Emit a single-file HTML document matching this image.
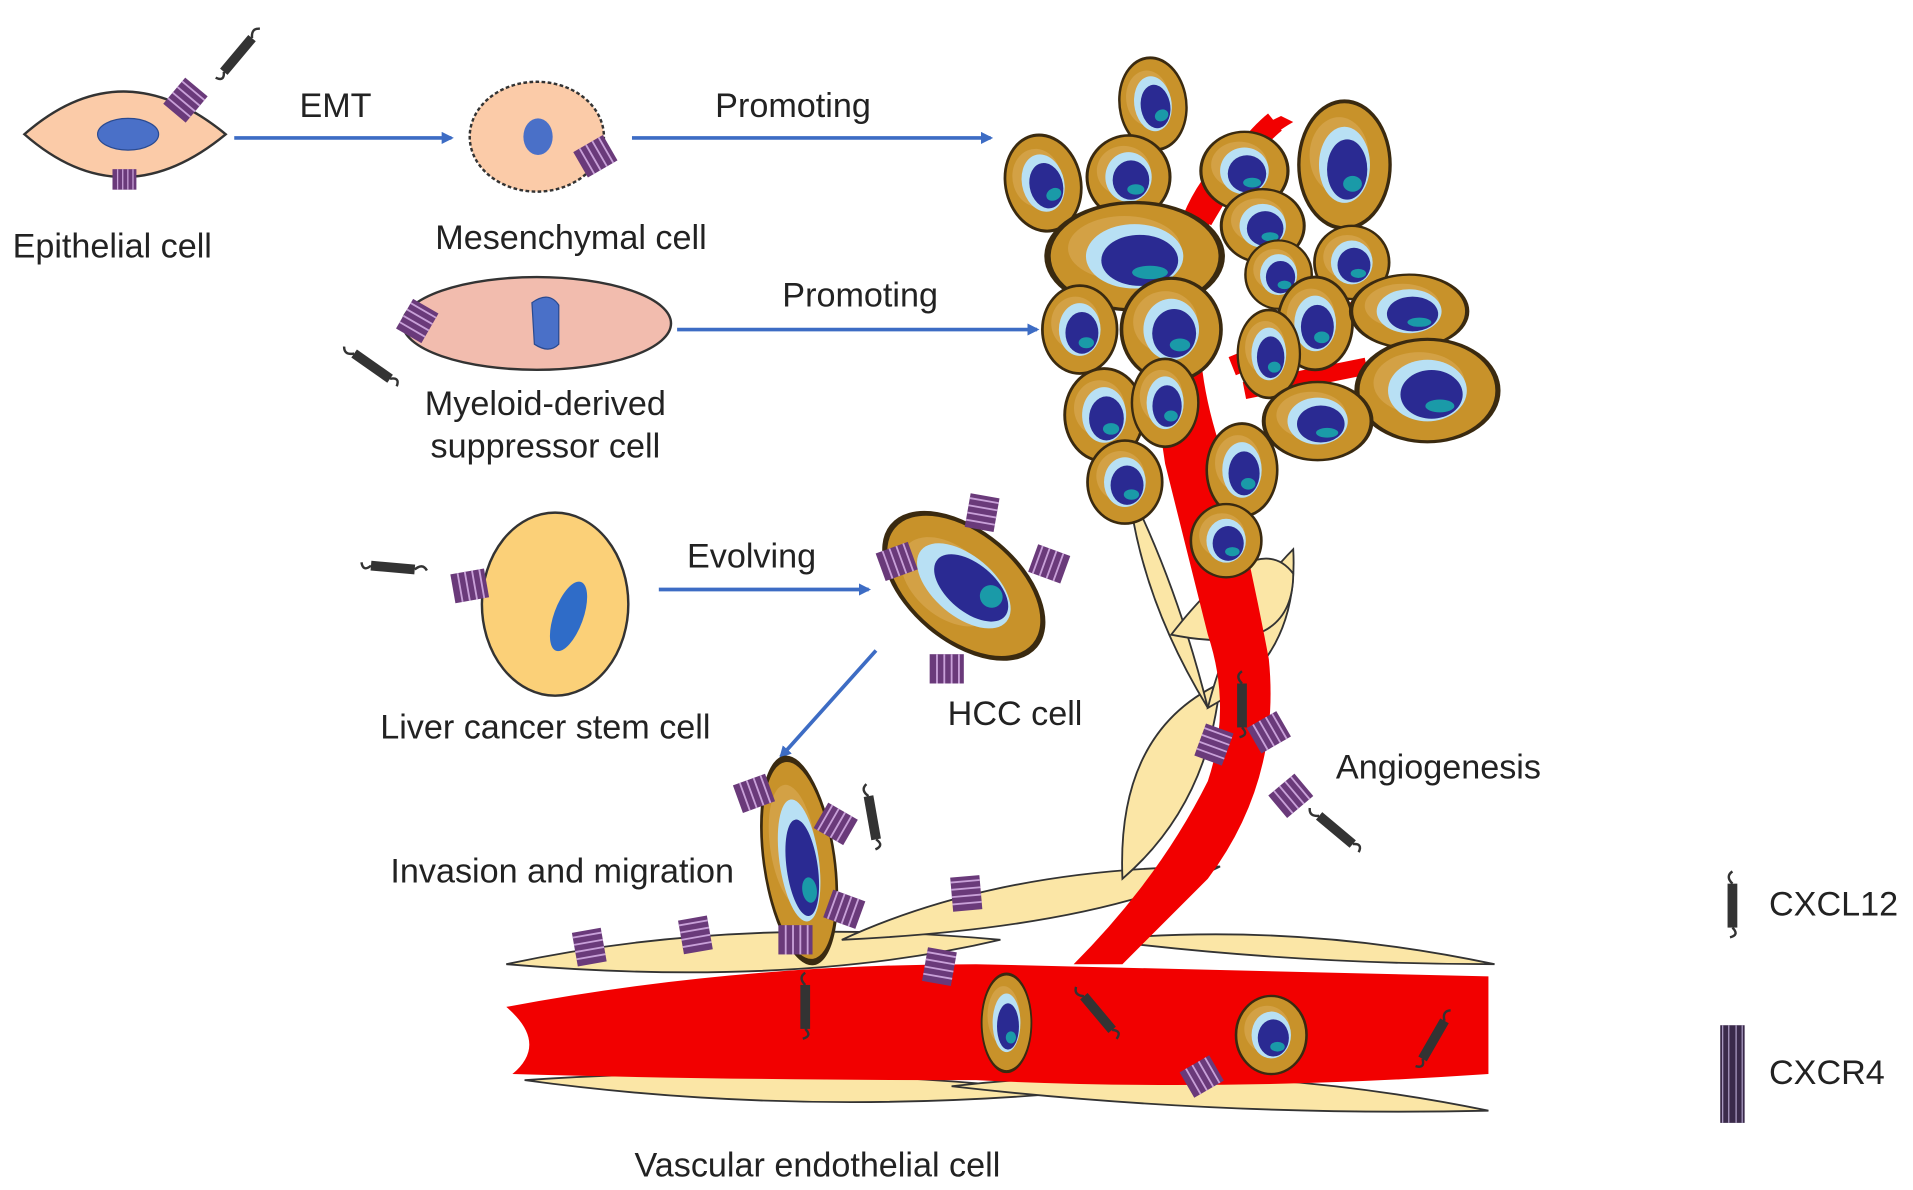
<!DOCTYPE html>
<html><head><meta charset="utf-8">
<style>
html,body{margin:0;padding:0;background:#fff;}
svg{display:block;}
text{font-family:"Liberation Sans",sans-serif;font-size:28px;fill:#222;}
</style></head>
<body>
<svg width="1913" height="1190" viewBox="0 0 1568 975" preserveAspectRatio="none" xmlns="http://www.w3.org/2000/svg">
<defs>
<marker id="ar" markerWidth="10" markerHeight="10" refX="8" refY="5" orient="auto" markerUnits="userSpaceOnUse">
<path d="M0,0 L10,5 L0,10 z" fill="#3d6cc4"/></marker>
<g id="cell">
<ellipse cx="0" cy="0" rx="34" ry="40" fill="#c8922a" stroke="#3a2a10" stroke-width="2.5"/>
<ellipse cx="-4" cy="-6" rx="22" ry="24" fill="#ddb060" opacity=".5"/>
<ellipse cx="0" cy="0" rx="19" ry="24" fill="#b8e0f4"/>
<ellipse cx="2" cy="3" rx="15" ry="19" fill="#2a2a92"/>
<ellipse cx="6" cy="12" rx="7" ry="5" fill="#1a9aa8"/>
</g>
<g id="rec">
<rect x="-12" y="-14" width="24" height="28" fill="#6a3a7a"/>
<path d="M-12,-10h24M-12,-4h24M-12,2h24M-12,8h24" stroke="#c8a0d8" stroke-width="1.5"/>
</g>
<g id="lig">
<rect x="-4" y="-18" width="8" height="36" fill="#333"/>
<path d="M0,-18 q-6,-6 0,-10 M0,18 q6,6 -2,8" stroke="#333" fill="none" stroke-width="2"/>
</g>
</defs>

<!-- vessel: endothelial cells -->
<g fill="#fbe6a6" stroke="#333" stroke-width="1.5">
<path d="M415,790 Q600,750 820,770 Q650,810 415,790z"/>
<path d="M690,770 Q820,710 1000,710 Q900,760 690,770z"/>
<path d="M900,770 Q1060,755 1225,790 Q1060,790 900,770z"/>
<path d="M430,885 Q650,870 880,895 Q650,915 430,885z"/>
<path d="M780,890 Q1000,865 1220,910 Q1000,915 780,890z"/>
<path d="M920,720 Q915,600 1000,560 Q990,660 920,720z"/>
<path d="M990,580 Q1010,500 1060,450 Q1065,540 990,580z"/>
<path d="M925,400 Q965,480 990,580 Q935,490 925,400z"/>
<path d="M960,520 Q1060,540 1060,470 Q1030,430 960,520z"/>
</g>
<!-- main vessel -->
<path d="M415,825 Q600,790 800,790 L1220,800 L1220,880 Q1000,895 800,885 Q600,885 420,880 Q450,855 415,825z" fill="#f20000"/>
<path d="M880,790 Q950,720 990,640 Q1010,580 990,520 Q970,440 955,380 Q940,290 960,210 Q975,130 1050,95 L1060,100 Q990,140 985,220 Q975,300 1005,380 Q1025,460 1040,540 Q1050,640 990,720 Q950,760 920,790z" fill="#f20000"/>
<path d="M985,180 Q1020,120 1045,100" stroke="#f20000" stroke-width="18" fill="none"/>
<path d="M1010,300 Q1060,280 1120,250" stroke="#f20000" stroke-width="16" fill="none"/>
<path d="M1020,320 Q1070,310 1120,300" stroke="#f20000" stroke-width="14" fill="none"/>

<!-- tumor cluster -->
<use href="#cell" transform="translate(945,85) scale(.8,.95) rotate(-15)"/>
<use href="#cell" transform="translate(855,150) scale(.9,1) rotate(-20)"/>
<use href="#cell" transform="translate(925,145) scale(1,.85)"/>
<use href="#cell" transform="translate(1020,140) scale(1.05,.8)"/>
<use href="#cell" transform="translate(1102,135) scale(1.1,1.3)"/>
<use href="#cell" transform="translate(1035,185) scale(1,.75)"/>
<use href="#cell" transform="translate(930,210) scale(2.1,1.1)"/>
<use href="#cell" transform="translate(1108,215) scale(.9,.75)"/>
<use href="#cell" transform="translate(1048,225) scale(.8,.7)"/>
<use href="#cell" transform="translate(885,270) scale(.9,.9)"/>
<use href="#cell" transform="translate(960,270) scale(1.2,1.05)"/>
<use href="#cell" transform="translate(1078,265) scale(.9,.95)"/>
<use href="#cell" transform="translate(1040,290) scale(.75,.9)"/>
<use href="#cell" transform="translate(1155,255) scale(1.4,.75)"/>
<use href="#cell" transform="translate(1170,320) scale(1.7,1.05)"/>
<use href="#cell" transform="translate(905,340) scale(.95,.95)"/>
<use href="#cell" transform="translate(955,330) scale(.8,.9)"/>
<use href="#cell" transform="translate(1080,345) scale(1.3,.8)"/>
<use href="#cell" transform="translate(922,395) scale(.9,.85)"/>
<use href="#cell" transform="translate(1018,385) scale(.85,.95)"/>
<use href="#cell" transform="translate(1005,443) scale(.85,.75)"/>

<!-- epithelial -->
<path d="M20,110 Q100,40 185,110 Q100,180 20,110z" fill="#fbcba8" stroke="#333" stroke-width="2"/>
<ellipse cx="105" cy="110" rx="25" ry="13" fill="#4a70c8" stroke="#2a4a90"/>
<use href="#rec" transform="translate(152,82) rotate(40)"/>
<use href="#rec" transform="translate(102,147) rotate(90) scale(.7)"/>
<use href="#lig" transform="translate(195,45) rotate(40)"/>
<line x1="192" y1="113" x2="370" y2="113" stroke="#3d6cc4" stroke-width="3" marker-end="url(#ar)"/>
<text x="275" y="96" text-anchor="middle">EMT</text>
<text x="92" y="211" text-anchor="middle">Epithelial cell</text>

<!-- mesenchymal -->
<ellipse cx="440" cy="112" rx="55" ry="45" fill="#fbcba8" stroke="#333" stroke-width="2" stroke-dasharray="3 2"/>
<ellipse cx="441" cy="112" rx="12" ry="15" fill="#4a70c8"/>
<use href="#rec" transform="translate(488,128) rotate(60)"/>
<line x1="518" y1="113" x2="812" y2="113" stroke="#3d6cc4" stroke-width="3" marker-end="url(#ar)"/>
<text x="650" y="96" text-anchor="middle">Promoting</text>
<text x="468" y="204" text-anchor="middle">Mesenchymal cell</text>

<!-- MDSC -->
<ellipse cx="440" cy="265" rx="110" ry="38" fill="#f2bcae" stroke="#333" stroke-width="2"/>
<path d="M436,248 Q450,238 458,250 L458,282 Q450,290 438,282z" fill="#4a70c8" stroke="#2a4a90"/>
<use href="#rec" transform="translate(342,263) rotate(30)"/>
<use href="#lig" transform="translate(305,300) rotate(-55)"/>
<line x1="555" y1="270" x2="850" y2="270" stroke="#3d6cc4" stroke-width="3" marker-end="url(#ar)"/>
<text x="705" y="251" text-anchor="middle">Promoting</text>
<text x="447" y="340" text-anchor="middle">Myeloid-derived</text>
<text x="447" y="375" text-anchor="middle">suppressor cell</text>

<!-- Liver CSC -->
<ellipse cx="455" cy="495" rx="60" ry="75" fill="#fbd078" stroke="#333" stroke-width="2"/>
<ellipse cx="466" cy="505" rx="12" ry="30" transform="rotate(20 466 505)" fill="#2f6cc8"/>
<use href="#rec" transform="translate(385,480) rotate(80)"/>
<use href="#lig" transform="translate(322,465) rotate(95)"/>
<line x1="540" y1="483" x2="712" y2="483" stroke="#3d6cc4" stroke-width="3" marker-end="url(#ar)"/>
<text x="616" y="465" text-anchor="middle">Evolving</text>
<text x="447" y="605" text-anchor="middle">Liver cancer stem cell</text>

<!-- HCC cell -->
<use href="#cell" transform="translate(790,480) rotate(-50) scale(1.3,1.9)"/>
<use href="#rec" transform="translate(805,420) rotate(10)"/>
<use href="#rec" transform="translate(735,460) rotate(70)"/>
<use href="#rec" transform="translate(860,462) rotate(-70)"/>
<use href="#rec" transform="translate(776,548) rotate(90)"/>
<text x="832" y="594" text-anchor="middle">HCC cell</text>
<line x1="718" y1="533" x2="640" y2="620" stroke="#3d6cc4" stroke-width="3" marker-end="url(#ar)"/>

<!-- migrating cell -->
<use href="#cell" transform="translate(655,705) rotate(-8) scale(.85,2.1)"/>
<use href="#rec" transform="translate(618,650) rotate(70)"/>
<use href="#rec" transform="translate(685,675) rotate(-60)"/>
<use href="#rec" transform="translate(692,745) rotate(-70)"/>
<use href="#rec" transform="translate(652,770) rotate(90)"/>
<use href="#lig" transform="translate(715,670) rotate(-10)"/>
<text x="320" y="723">Invasion and migration</text>

<!-- receptors on vessel -->
<use href="#rec" transform="translate(483,776) rotate(-10)"/>
<use href="#rec" transform="translate(570,766) rotate(-10)"/>
<use href="#rec" transform="translate(792,732) rotate(-5)"/>
<use href="#rec" transform="translate(770,792) rotate(10)"/>
<use href="#rec" transform="translate(985,882) rotate(60)"/>
<use href="#rec" transform="translate(995,610) rotate(20)"/>
<use href="#rec" transform="translate(1040,600) rotate(60)"/>
<use href="#rec" transform="translate(1058,652) rotate(50)"/>
<use href="#lig" transform="translate(1018,578)"/>
<use href="#lig" transform="translate(1095,680) rotate(-50)"/>
<use href="#lig" transform="translate(660,825)"/>
<use href="#lig" transform="translate(900,830) rotate(-40)"/>
<use href="#lig" transform="translate(1175,852) rotate(30)"/>
<use href="#cell" transform="translate(825,838) scale(.6,1)"/>
<use href="#cell" transform="translate(1042,848) scale(.85,.8)"/>
<text x="1095" y="638">Angiogenesis</text>
<text x="670" y="964" text-anchor="middle">Vascular endothelial cell</text>

<!-- legend -->
<use href="#lig" transform="translate(1420,742)"/>
<text x="1450" y="750">CXCL12</text>
<g transform="translate(1420,880)">
<rect x="-10" y="-40" width="20" height="80" fill="#3a2a4a"/>
<path d="M-8,-40v80M-3,-40v80M3,-40v80M8,-40v80" stroke="#b0a0c8" stroke-width="1"/>
</g>
<text x="1450" y="888">CXCR4</text>
</svg>
</body></html>
